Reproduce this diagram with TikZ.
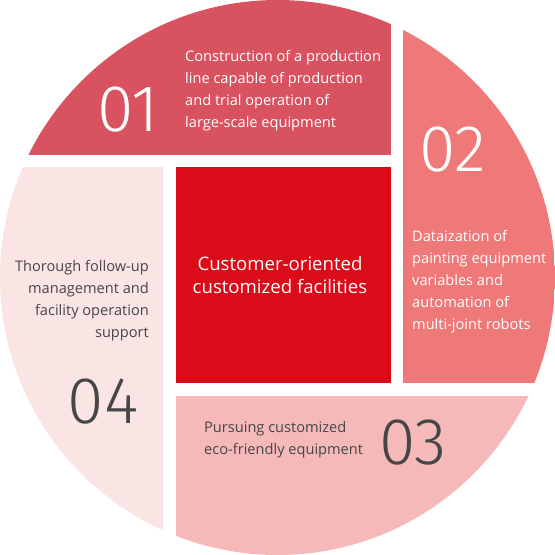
\documentclass[tikz,border=0pt]{standalone}
\usepackage{fontspec}
\setmainfont{Open Sans}
\newfontfamily\numfont{Fira Sans Light}
\definecolor{cA}{RGB}{217,82,96}
\definecolor{cB}{RGB}{239,120,120}
\definecolor{cC}{RGB}{246,185,185}
\definecolor{cD}{RGB}{251,228,228}
\definecolor{cE}{RGB}{220,11,26}
\definecolor{darktxt}{RGB}{70,70,70}
\begin{document}
\begin{tikzpicture}[x=1pt,y=-1pt,
  body/.style={inner sep=0pt,font=\fontsize{14.6}{22}\selectfont},
  bignum/.style={inner sep=0pt,font=\numfont\fontsize{66}{66}\selectfont}]
\useasboundingbox (0,0) rectangle (555,555);
\begin{scope}
\clip (277.5,277.5) circle (277.5);
\fill[cA] (0,0) rectangle (391,155);
\fill[cB] (403,0) rectangle (555,383);
\fill[cC] (176,396) rectangle (555,555);
\fill[cD] (0,167) rectangle (163,555);
\end{scope}
\fill[cE] (176,167) rectangle (391,383);
\node[body,white,align=left,anchor=west] (t1) at (185,91) {Construction of a production\\line capable of production\\and trial operation of\\large-scale equipment};
\node[bignum,white] (n1) at (128,110) {01};
\node[body,white,align=left,anchor=west] (t2) at (412,282) {Dataization of\\painting equipment\\variables and\\automation of\\multi-joint robots};
\node[bignum,white] (n2) at (453,150) {02};
\node[body,darktxt,align=left,anchor=west] (t3) at (204,439.5) {Pursuing customized\\eco-friendly equipment};
\node[bignum,darktxt] (n3) at (413,443) {03};
\node[body,darktxt,align=right,anchor=east] (t4) at (149,301) {Thorough follow-up\\management and\\facility operation\\support};
\node[bignum,darktxt] (n4) at (103,402) {04};
\node[white,align=center,inner sep=0pt,font=\fontsize{18.6}{23}\selectfont] (tc) at (280,275) {Customer-oriented\\customized facilities};
\end{tikzpicture}
\end{document}
